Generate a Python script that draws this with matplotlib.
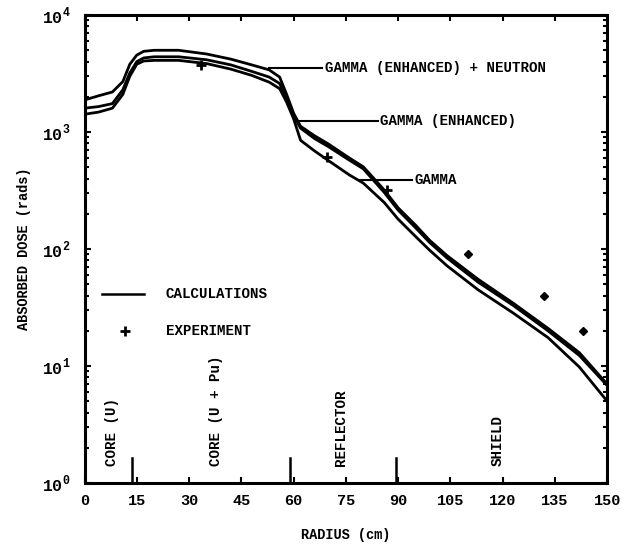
import numpy as np
import matplotlib
matplotlib.use("Agg")
import matplotlib.pyplot as plt
from matplotlib.ticker import FixedLocator, LogLocator, NullFormatter

plt.rcParams['font.family'] = ['Liberation Mono', 'DejaVu Sans Mono']
plt.rcParams['font.weight'] = 'bold'
plt.rcParams['mathtext.fontset'] = 'custom'
plt.rcParams['mathtext.rm'] = 'Liberation Mono:bold'
plt.rcParams['mathtext.bf'] = 'Liberation Mono:bold'

# calculated dose curves (rads) vs radius (cm)
radius = [0, 4, 8, 11, 13, 15, 17, 20, 27, 35, 42, 48, 53, 56, 58, 60, 62, 66, 70,
          76, 80, 86, 90, 95, 99, 104, 113, 123, 133, 142, 150]
dose_gamma_enh_neutron = [1880, 2040, 2200, 2700, 3800, 4550, 4900, 5000, 5000, 4650,
                          4200, 3750, 3400, 2950, 2100, 1450, 1120, 930, 790, 600,
                          505, 320, 225, 160, 119, 88, 55, 34.5, 21, 13, 7.0]
dose_gamma_enh = [1600, 1650, 1750, 2300, 3200, 4000, 4300, 4400, 4400, 4150,
                  3750, 3300, 2950, 2600, 1950, 1380, 1080, 880, 750, 575,
                  485, 305, 215, 152, 114, 84, 52, 33, 20, 12.3, 6.8]
dose_gamma = [1420, 1480, 1600, 2100, 3000, 3800, 4050, 4100, 4100, 3850,
              3450, 3050, 2670, 2350, 1800, 1300, 850, 690, 570, 430,
              366, 250, 180, 128, 98, 72, 44.7, 28.4, 17.5, 9.8, 5.0]

# experiment
exp_plus_r = [33.4, 69.7, 86.7]
exp_plus_dose = [3740, 611, 319]
exp_diam_r = [110, 132, 143]
exp_diam_dose = [90, 40, 20]

# region boundaries and names
boundaries = [13.5, 59, 89.3]
region_names = ["CORE (U)", "CORE (U + Pu)", "REFLECTOR", "SHIELD"]
region_x = [7.8, 37.7, 73.7, 118.6]

fig = plt.figure(figsize=(6.26, 5.46), dpi=100)
ax = fig.add_axes([0.135, 0.1154, 0.835, 0.857])

for d in [dose_gamma_enh_neutron, dose_gamma_enh, dose_gamma]:
    ax.plot(radius, d, color='black', lw=2.0)

ax.plot(exp_plus_r, exp_plus_dose, '+', color='black', ms=7, mew=2)
ax.plot(exp_diam_r, exp_diam_dose, 'D', color='black', ms=4.5)

ax.set_yscale('log')
ax.set_xlim(0, 150)
ax.set_ylim(1, 1e4)

fs = 10.2
# curve annotations with leader lines
ann = [("GAMMA (ENHANCED) + NEUTRON", 53.0, 68.2, 3524),
       ("GAMMA (ENHANCED)", 61.6, 84.1, 1242),
       ("GAMMA", 78.9, 93.9, 389)]
for txt, x0, x1, yv in ann:
    ax.plot([x0, x1], [yv, yv], color='black', lw=1.5)
    ax.text(x1 + 0.8, yv, txt, fontsize=fs, fontweight='bold', va='center', ha='left')

# legend drawn by hand
ax.plot([4.9, 17], [41.2, 41.2], color='black', lw=1.8)
ax.text(23.3, 41.2, "CALCULATIONS", fontsize=fs, fontweight='bold', va='center')
ax.plot([11.5], [19.9], '+', color='black', ms=7, mew=2)
ax.text(23.3, 19.9, "EXPERIMENT", fontsize=fs, fontweight='bold', va='center')

# region boundaries and labels
for b in boundaries:
    ax.plot([b, b], [1, 1.64], color='black', lw=1.8)
for name, xr in zip(region_names, region_x):
    ax.text(xr, 1.4, name, rotation=90, fontsize=fs, fontweight='bold',
            ha='center', va='bottom')

for s in ax.spines.values():
    s.set_linewidth(2.2)
ax.xaxis.set_major_locator(FixedLocator(np.arange(0, 151, 15)))
ax.yaxis.set_major_locator(LogLocator(base=10, numticks=10))
ax.yaxis.set_minor_locator(LogLocator(base=10, subs=np.arange(2, 10), numticks=10))
ax.yaxis.set_minor_formatter(NullFormatter())
ax.tick_params(which='both', direction='in', top=True, right=True, width=1.5)
ax.tick_params(which='major', length=4, labelsize=11)
ax.tick_params(axis='x', which='major', pad=8)
ax.tick_params(axis='y', which='major', pad=10)
ax.tick_params(which='minor', length=3)
ax.set_yticks([1, 10, 100, 1000, 10000])
ax.set_yticklabels([r'10$^{0}$', r'10$^{1}$', r'10$^{2}$', r'10$^{3}$', r'10$^{4}$'],
                   fontsize=12)
for lab in ax.get_xticklabels() + ax.get_yticklabels():
    lab.set_fontweight('bold')

ax.set_xlabel("RADIUS (cm)", fontsize=9.8, fontweight='bold', labelpad=14)
ax.set_ylabel("ABSORBED DOSE (rads)", fontsize=9.8, fontweight='bold', labelpad=8)

fig.savefig("out.png", dpi=100)
